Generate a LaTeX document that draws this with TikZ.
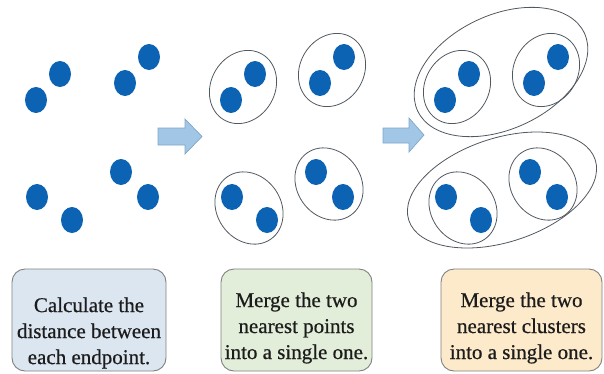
\documentclass[tikz,border=0pt]{standalone}
\usepackage{fontspec}
\setmainfont[FakeBold=0.6]{Liberation Serif}
\definecolor{dotblue}{HTML}{0C63B3}
\definecolor{ringgray}{HTML}{505860}
\definecolor{arrowfill}{HTML}{A2C7E6}
\definecolor{arrowline}{HTML}{7EA6C9}
\definecolor{boxline}{HTML}{808080}
\definecolor{fillblue}{HTML}{DCE6F1}
\definecolor{fillgreen}{HTML}{E2EED9}
\definecolor{fillorange}{HTML}{FDEACA}
\definecolor{inktext}{HTML}{1C1C1C}
\begin{document}
\begin{tikzpicture}[x=1pt,y=-1pt,
  dot/.style={fill=dotblue},
  ring/.style={draw=ringgray,line width=0.8pt},
  fatarrow/.style={fill=arrowfill,draw=arrowline,line width=0.7pt,line join=miter},
  stepbox/.style={draw=boxline,line width=0.9pt,rounded corners=13pt,
    minimum width=154pt,minimum height=102pt,inner sep=0pt},
  steptext/.style={align=center,text=inktext,inner sep=0pt,
    font=\fontsize{21}{26}\selectfont}]
\useasboundingbox (0,0) rectangle (604,373);

% points, repeated in the three stages
\foreach \dx in {0,195,409}{
  \foreach \px/\py in {60/74,36/100,149/57,125/83,121/172,148/197,37/197,72/220}
    \fill[dot] (\px+\dx,\py) ellipse [x radius=11, y radius=13];
}

% pairs merged in the second and third stages
\foreach \dx in {195,409}{
  \draw[ring,rotate around={60:(48+\dx,87)}]   (48+\dx,87)    ellipse [x radius=38, y radius=32];
  \draw[ring,rotate around={60:(137+\dx,70)}]  (137+\dx,70)   ellipse [x radius=38, y radius=32];
  \draw[ring,rotate around={-55:(54+\dx,208)}] (54+\dx,208)   ellipse [x radius=38, y radius=32];
  \draw[ring,rotate around={-55:(134+\dx,184)}](134+\dx,184)  ellipse [x radius=38, y radius=32];
}

% clusters merged in the third stage
\draw[ring,rotate around={25:(501,72)}]  (501,72)  ellipse [x radius=92, y radius=57];
\draw[ring,rotate around={18:(502,190)}] (502,190) ellipse [x radius=98, y radius=52];

% block arrows between stages
\draw[fatarrow] (158,128) -- (185,128) -- (185,119) -- (202,136.5) -- (185,154)
  -- (185,145) -- (158,145) -- cycle;
\draw[fatarrow] (383,128) -- (409,128) -- (409,118) -- (424,135) -- (409,152)
  -- (409,143) -- (383,143) -- cycle;

% step captions
\node[stepbox,fill=fillblue]   (box1) at (89,320)  {};
\node[stepbox,fill=fillgreen,minimum width=151pt]  (box2) at (296.5,320) {};
\node[stepbox,fill=fillorange,minimum width=161pt] (box3) at (521.5,320) {};
\node[steptext] (txt1) at (89,333)    {Calculate the\\distance between\\each endpoint.};
\node[steptext] (txt2) at (296.5,328) {Merge the two\\nearest points\\into a single one.};
\node[steptext] (txt3) at (521.5,328) {Merge the two\\nearest clusters\\into a single one.};
\end{tikzpicture}
\end{document}
